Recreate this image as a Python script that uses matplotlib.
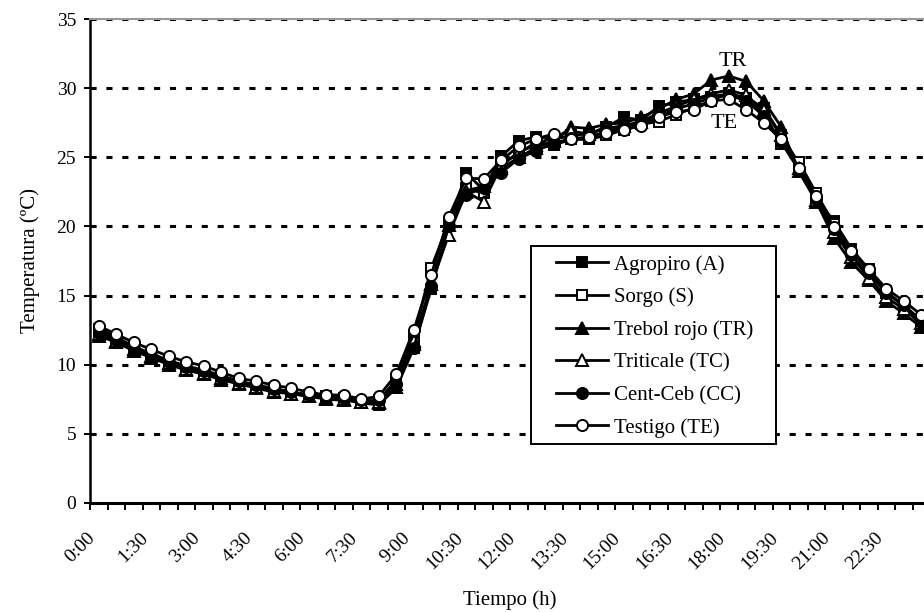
import matplotlib
matplotlib.use("Agg")
import matplotlib.pyplot as plt
from matplotlib.patches import Rectangle
from matplotlib.transforms import ScaledTranslation

plt.rcParams["font.family"] = ["Liberation Serif", "DejaVu Serif"]

# half-hour readings, 0:00 .. 23:30
times = [f"{h}:{m:02d}" for h in range(24) for m in (0, 30)]

agropiro = [12.4, 11.8, 11.2, 10.7, 10.2, 9.8, 9.5, 9.1, 8.7, 8.4, 8.2, 8.0, 7.8, 7.6, 7.5, 7.2,
            7.1, 8.3, 11.2, 15.5, 20.0, 23.9, 22.6, 25.1, 26.2, 26.5, 26.3, 26.6, 26.7, 27.2, 27.9, 27.7,
            28.7, 29.0, 29.2, 29.4, 29.6, 29.3, 28.6, 26.6, 24.6, 22.0, 20.4, 18.4, 16.9, 15.3, 14.2, 12.8]
sorgo = [12.6, 12.0, 11.3, 10.8, 10.3, 9.9, 9.6, 9.2, 8.8, 8.5, 8.3, 8.0, 7.8, 7.7, 7.6, 7.3,
         7.4, 8.9, 12.0, 17.0, 20.3, 22.8, 22.4, 24.5, 25.3, 26.1, 25.9, 26.3, 26.3, 26.6, 27.0, 27.4,
         27.6, 28.1, 28.6, 29.1, 29.7, 29.2, 28.2, 26.0, 24.7, 22.4, 20.2, 18.3, 16.8, 15.2, 14.3, 13.2]
trebol = [12.1, 11.6, 11.0, 10.5, 10.0, 9.6, 9.3, 8.9, 8.6, 8.3, 8.0, 7.9, 7.7, 7.5, 7.4, 7.3,
          7.2, 8.4, 11.5, 15.8, 20.1, 22.6, 22.9, 24.2, 25.0, 25.7, 26.2, 27.2, 27.1, 27.4, 27.5, 27.9,
          28.5, 29.2, 29.6, 30.6, 30.9, 30.5, 29.1, 27.2, 24.0, 21.8, 19.2, 17.4, 16.1, 14.6, 13.7, 12.7]
triticale = [12.2, 11.7, 11.1, 10.6, 10.1, 9.7, 9.4, 9.0, 8.7, 8.4, 8.1, 7.9, 7.7, 7.6, 7.5, 7.3,
             7.3, 8.6, 11.7, 15.8, 19.4, 22.5, 21.8, 24.4, 25.4, 25.9, 26.5, 26.9, 26.7, 27.1, 27.3, 27.6,
             28.2, 28.7, 29.2, 29.6, 29.9, 29.5, 28.4, 26.6, 24.2, 21.9, 19.6, 17.8, 16.3, 14.9, 14.0, 13.0]
centceb = [12.3, 11.8, 11.1, 10.6, 10.2, 9.8, 9.5, 9.1, 8.8, 8.5, 8.2, 8.0, 7.8, 7.6, 7.6, 7.4,
           7.4, 8.6, 11.2, 15.7, 20.0, 22.3, 22.8, 23.9, 24.9, 25.5, 26.0, 26.4, 26.4, 26.9, 27.2, 27.5,
           28.0, 28.5, 28.9, 29.3, 29.5, 29.1, 28.0, 26.1, 24.1, 22.0, 19.8, 17.9, 16.6, 15.2, 14.3, 13.1]
testigo = [12.8, 12.2, 11.6, 11.1, 10.6, 10.2, 9.9, 9.45, 9.0, 8.8, 8.5, 8.3, 8.0, 7.8, 7.8, 7.5,
           7.7, 9.3, 12.5, 16.5, 20.7, 23.5, 23.45, 24.8, 25.8, 26.35, 26.7, 26.3, 26.5, 26.8, 27.0, 27.3,
           27.95, 28.3, 28.45, 29.1, 29.2, 28.45, 27.5, 26.3, 24.25, 22.2, 19.95, 18.2, 16.9, 15.5, 14.6, 13.6]

series = [
    ("Agropiro (A)", agropiro, "s", "black", 7.5),
    ("Sorgo (S)", sorgo, "s", "white", 7.5),
    ("Trebol rojo (TR)", trebol, "^", "black", 8.5),
    ("Triticale (TC)", triticale, "^", "white", 8.5),
    ("Cent-Ceb (CC)", centceb, "o", "black", 8),
    ("Testigo (TE)", testigo, "o", "white", 8),
]

W, H = 924, 612
fig = plt.figure(figsize=(W / 100, H / 100), dpi=100)
# plot area runs past the right edge of the picture (cropped like the original)
ax = fig.add_axes([90 / W, (H - 502.7) / H, 840 / W, (502.7 - 19.3) / H])

x = list(range(len(times)))
for yv in range(5, 40, 5):
    ax.axhline(yv, color="black", lw=2.2, ls=(0, (2, 3.2)), zorder=1)

for name, vals, mk, fc, ms in series:
    ax.plot(x, vals, color="black", lw=2.0, marker=mk, markersize=ms,
            markerfacecolor=fc, markeredgecolor="black", markeredgewidth=1.4,
            label=name, zorder=3)

ax.set_xlim(-0.5, len(times) - 0.5)
ax.set_ylim(0, 35)
ax.set_yticks(range(0, 40, 5))
ax.set_xticks([i - 0.5 for i in range(len(times) + 1)], minor=True)
ax.set_xticks(x[::3])
ax.set_xticklabels(times[::3], rotation=45, ha="right", va="top", fontsize=14)
shift = ScaledTranslation(-0.11, 0, fig.dpi_scale_trans)
for lbl in ax.get_xticklabels():
    lbl.set_transform(lbl.get_transform() + shift)
ax.tick_params(axis="x", which="major", length=0, pad=19)
ax.tick_params(axis="x", which="minor", direction="out", length=5, width=1.4)
ax.tick_params(axis="y", direction="inout", length=8, width=1.4, labelsize=14, pad=6)

ax.spines["right"].set_visible(False)
ax.spines["top"].set_color("#999999")
ax.spines["top"].set_linewidth(1.5)
ax.spines["left"].set_linewidth(1.8)
ax.spines["bottom"].set_linewidth(2.2)

ax.set_xlabel("Tiempo (h)", fontsize=15, labelpad=13)
ax.set_ylabel("Temperatura (ºC)", fontsize=15, labelpad=12)

ax.text(36.26, 31.98, "TR", ha="center", va="center", fontsize=16)
ax.text(35.74, 27.46, "TE", ha="center", va="center", fontsize=16)

# legend entries placed by hand, box drawn separately (wider side padding than mpl allows)
leg = ax.legend(loc="upper left", bbox_to_anchor=(556 / W, 1 - 255 / H),
                bbox_transform=fig.transFigure, borderaxespad=0, borderpad=0,
                fontsize=15, handlelength=2.5, handletextpad=0.29, labelspacing=0.62,
                frameon=False)
leg.set_zorder(6)
ax.add_patch(Rectangle((531 / W, 1 - 444 / H), (776 - 531) / W, (444 - 246) / H,
                       transform=fig.transFigure, facecolor="white",
                       edgecolor="black", lw=1.4, zorder=5, clip_on=False))

fig.savefig("out.png", dpi=100)
